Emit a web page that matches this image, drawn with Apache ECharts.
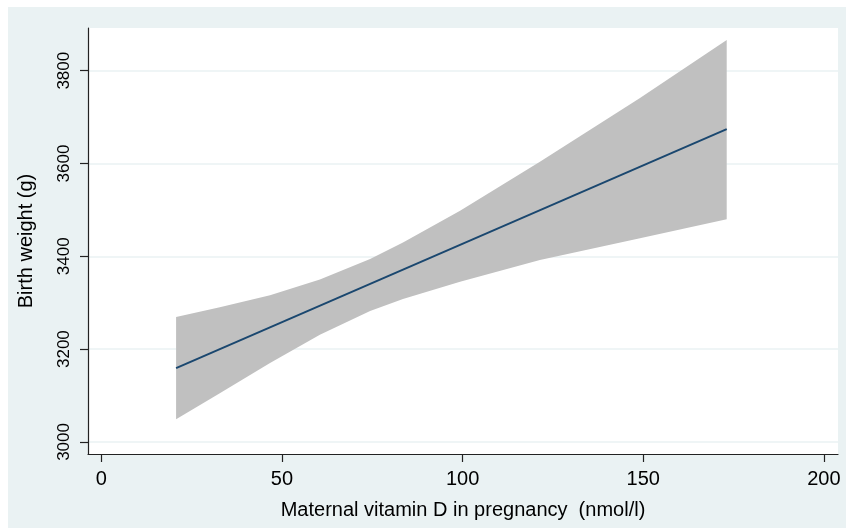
<!DOCTYPE html>
<html>
<head>
<meta charset="utf-8">
<script src="https://cdn.jsdelivr.net/npm/echarts@6/dist/echarts.min.js"></script>
<style>
html,body{margin:0;padding:0;background:#ffffff;}
#chart{position:absolute;left:8px;top:7px;width:838px;height:521px;}
</style>
</head>
<body>
<div id="chart"></div>
<script>
// Data
const xValues   = [20.7, 32.8, 46.7, 60.5, 74.4, 83.5, 99.3, 121.4, 149.1, 173.1];
const lowerCI   = [3049, 3105, 3170, 3231, 3282, 3308, 3345, 3392, 3439, 3480];
const upperCI   = [3269, 3290, 3316, 3350, 3394, 3430, 3498, 3604, 3741, 3866];
const fitX      = [20.7, 173.1];
const fitY      = [3159, 3674];
const xTicks    = [0, 50, 100, 150, 200];
const yTicks    = [3000, 3200, 3400, 3600, 3800];
const xTitle    = 'Maternal vitamin D in pregnancy  (nmol/l)';
const yTitle    = 'Birth weight (g)';

const fitData   = fitX.map((x, i) => [x, fitY[i]]);

const chart = echarts.init(document.getElementById('chart'));
chart.setOption({
  backgroundColor: '#EAF2F3',
  animation: false,
  grid: {
    left: 80, right: 8, top: 21, bottom: 74,
    show: true, backgroundColor: '#ffffff', borderWidth: 0
  },
  xAxis: {
    type: 'value',
    min: -3.68, max: 203.9,
    name: xTitle,
    nameLocation: 'middle',
    nameGap: 46,
    nameTextStyle: { color: '#000', fontSize: 20, fontFamily: 'Liberation Sans, Arial, sans-serif' },
    axisLine: { onZero: false, lineStyle: { color: '#222', width: 1.2 } },
    axisTick: { customValues: xTicks, length: 8, lineStyle: { color: '#222', width: 1.2 } },
    axisLabel: { customValues: xTicks, margin: 15, color: '#000', fontSize: 20, fontFamily: 'Liberation Sans, Arial, sans-serif' },
    splitLine: { show: false }
  },
  yAxis: {
    type: 'value',
    min: 2974, max: 3892,
    name: yTitle,
    nameLocation: 'middle',
    nameGap: 52,
    nameTextStyle: { color: '#000', fontSize: 20, fontFamily: 'Liberation Sans, Arial, sans-serif' },
    axisLine: { onZero: false, lineStyle: { color: '#222', width: 1.2 } },
    axisTick: { customValues: yTicks, length: 8, lineStyle: { color: '#222', width: 1.2 } },
    axisLabel: {
      customValues: yTicks, rotate: 90, margin: 15, color: '#000', fontSize: 17,
      fontFamily: 'Liberation Sans, Arial, sans-serif',
      formatter: v => String(v)
    },
    splitLine: { show: true, lineStyle: { color: '#EAF2F3', width: 1.5 } }
  },
  series: [
    {
      type: 'custom',
      silent: true,
      data: [0],
      renderItem: function (params, api) {
        const pts = [];
        for (let i = 0; i < xValues.length; i++) pts.push(api.coord([xValues[i], upperCI[i]]));
        for (let i = xValues.length - 1; i >= 0; i--) pts.push(api.coord([xValues[i], lowerCI[i]]));
        return {
          type: 'polygon',
          shape: { points: pts },
          style: { fill: '#C0C0C0', stroke: null }
        };
      },
      z: 2
    },
    {
      type: 'line', data: fitData, symbol: 'none', z: 3,
      lineStyle: { color: '#1A476F', width: 2 }
    }
  ]
});
</script>
</body>
</html>
